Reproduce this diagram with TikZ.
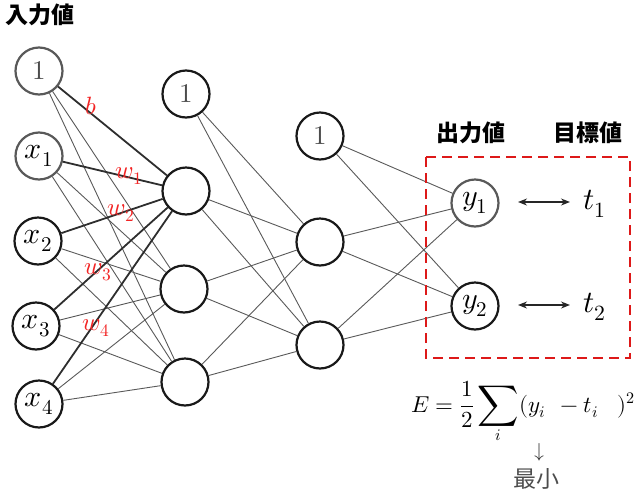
\documentclass[tikz,border=0pt]{standalone}
\usepackage{fontspec}
\usepackage{unicode-math}
\setmathfont{Latin Modern Math}
\newfontfamily\cjk{Noto Sans CJK JP}
\usetikzlibrary{arrows.meta}
\begin{document}
\begin{tikzpicture}[x=1pt,y=-1pt,
  neuron/.style={circle,draw=black!90,line width=2.2pt,minimum size=47pt,inner sep=0pt,fill=white,font=\fontsize{30}{32}\selectfont},
  grayneuron/.style={neuron,draw=black!65},
  biastext/.style={text=black!70,font=\fontsize{27}{30}\selectfont},
  thinedge/.style={draw=black!65,line width=0.9pt},
  thickedge/.style={draw=black!82,line width=1.8pt},
  wlabel/.style={text=red!85!white!95!black,font=\fontsize{25}{28}\selectfont},
  jlabel/.style={font=\cjk\bfseries\fontsize{23}{26}\selectfont},
  tlabel/.style={font=\fontsize{31}{34}\selectfont},
  dbl/.style={{Stealth[length=9pt,width=7pt]}-{Stealth[length=9pt,width=7pt]},line width=1.4pt,black!85}
]
\useasboundingbox (0,0) rectangle (641,499);
% input layer
\node[grayneuron,biastext] (i0) at (39,71) {$1$};
\node[grayneuron] (i1) at (39,156) {$x_1$};
\node[neuron] (i2) at (38,241) {$x_2$};
\node[neuron] (i3) at (36,326) {$x_3$};
\node[neuron] (i4) at (39,404) {$x_4$};
% hidden layer 1
\node[neuron,biastext] (b1) at (186,94) {$1$};
\node[neuron] (h1) at (186,191) {};
\node[neuron] (h2) at (184,289) {};
\node[neuron] (h3) at (185,382) {};
% hidden layer 2
\node[neuron,biastext] (b2) at (320,136) {$1$};
\node[neuron] (g1) at (320,242) {};
\node[neuron] (g2) at (320,345) {};
% output
\node[grayneuron] (y1) at (475,203) {$y_1$};
\node[neuron] (y2) at (475,306) {$y_2$};
% edges input -> hidden 1
\foreach \i in {i0,i1,i2,i3,i4}{
  \draw[thickedge] (\i) -- (h1);
  \draw[thinedge] (\i) -- (h2);
  \draw[thinedge] (\i) -- (h3);
}
\foreach \i in {b1,h1,h2,h3}{
  \draw[thinedge] (\i) -- (g1);
  \draw[thinedge] (\i) -- (g2);
}
\foreach \i in {b2,g1,g2}{
  \draw[thinedge] (\i) -- (y1);
  \draw[thinedge] (\i) -- (y2);
}
% weight labels
\node[wlabel] (lb) at (91,106) {$b$};
\node[wlabel] (lw1) at (129,176) {$w_1$};
\node[wlabel] (lw2) at (121,213) {$w_2$};
\node[wlabel] (lw3) at (98,272) {$w_3$};
\node[wlabel] (lw4) at (96,328) {$w_4$};
% headers
\node[jlabel] (in) at (40,15) {入力値};
\node[jlabel] (out) at (471,133) {出力値};
\node[jlabel] (tg) at (588,133) {目標値};
% dashed box
\draw[red!85!black!90!white,line width=2.4pt,dash pattern=on 10pt off 6pt] (426,157) rectangle (630,358);
% targets
\node[tlabel] (t1) at (595,204) {$t_1$};
\node[tlabel] (t2) at (595,307) {$t_2$};
\coordinate (a1) at (518,202);
\coordinate (a2) at (570,202);
\coordinate (a3) at (518,305);
\coordinate (a4) at (570,305);
\draw[dbl] (a1) -- (a2);
\draw[dbl] (a3) -- (a4);
% formula
\node[font=\fontsize{23}{26}\selectfont,anchor=base west,inner sep=0pt] (E) at (411,412) {$\displaystyle E=\frac{1}{2}\mathop{\vcenter{\hbox{\scalebox{1.25}{$\displaystyle\sum$}}}}\limits_{i}(y_i\;\,-t_i\;\;\;)^2$};
\node[font=\fontsize{20}{22}\selectfont,text=black!80] (arr) at (539,452) {$\downarrow$};
\node[font=\cjk\fontsize{23}{26}\selectfont,text=black!70] (min) at (536,479) {最小};
\end{tikzpicture}
\end{document}
